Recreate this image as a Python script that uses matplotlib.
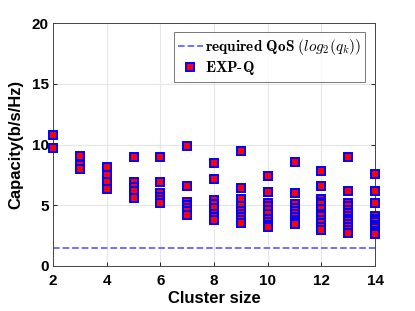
import numpy as np
import matplotlib
matplotlib.use("Agg")
import matplotlib.pyplot as plt

plt.rcParams['font.family'] = ['Liberation Sans', 'DejaVu Sans']
plt.rcParams['mathtext.fontset'] = 'cm'

# capacity of each user, grouped by cluster size
cluster_sizes = [2, 3, 4, 5, 6, 7, 8, 9, 10, 11, 12, 13, 14]
capacity = {
    2: [10.8, 9.7],
    3: [9.1, 8.3, 8.0],
    4: [8.15, 7.5, 6.9, 6.3],
    5: [9.0, 6.9, 6.5, 6.15, 5.6],
    6: [9.0, 6.9, 6.0, 5.7, 5.4, 5.2],
    7: [9.85, 6.6, 5.3, 5.0, 4.8, 4.5, 4.2],
    8: [8.5, 7.15, 5.4, 5.1, 4.75, 4.3, 4.05, 3.75],
    9: [9.5, 6.4, 5.5, 4.9, 4.55, 4.3, 4.05, 3.8, 3.5],
    10: [7.4, 6.1, 5.2, 4.9, 4.65, 4.3, 3.9, 3.6, 3.4, 3.2],
    11: [8.6, 6.05, 5.1, 4.8, 4.55, 4.3, 4.0, 3.8, 3.6, 3.5, 3.45],
    12: [7.8, 6.55, 5.55, 5.3, 5.1, 4.7, 4.3, 4.1, 3.8, 3.5, 3.2, 3.0],
    13: [8.95, 6.2, 5.2, 4.9, 4.6, 4.4, 4.1, 3.9, 3.7, 3.45, 3.2, 2.95, 2.7],
    14: [7.6, 6.2, 5.2, 4.1, 3.9, 3.7, 3.6, 3.4, 3.2, 3.1, 2.9, 2.8, 2.7, 2.6],
}
qos = 1.5

fig = plt.figure(figsize=(4.15, 3.11), dpi=100)
ax = fig.add_axes([0.128, 0.145, 0.776, 0.78])

ax.plot([2, 14], [qos, qos], '--', color=(0.4, 0.4, 1.0), lw=1.3,
        label=r'$\mathbf{required\ QoS}$ $(log_2(q_k))$')
first = True
for k in cluster_sizes:
    ys = capacity[k]
    ax.plot([k] * len(ys), ys, 's', mfc='red', mec='blue', ms=5.2, mew=1.4,
            linestyle='none', clip_on=False, zorder=3,
            label=r'$\mathbf{EXP\text{-}Q}$' if first else None)
    first = False

ax.set_xlim(2, 14)
ax.set_ylim(0, 20)
ax.set_xticks([2, 4, 6, 8, 10, 12, 14])
ax.set_yticks([0, 5, 10, 15, 20])
ax.grid(True, color='#e6e6e6', lw=0.8)
ax.set_axisbelow(True)
ax.tick_params(direction='in', length=3, labelsize=11, pad=3, width=0.6,
               top=False, right=True)
ax.tick_params(axis='x', pad=6)
for lab in ax.get_xticklabels() + ax.get_yticklabels():
    lab.set_fontweight('bold')
for s in ax.spines.values():
    s.set_linewidth(0.7)
    s.set_color('#444444')
ax.set_xlabel('Cluster size', fontsize=12, fontweight='bold', labelpad=2)
ax.set_ylabel('Capacity(b/s/Hz)', fontsize=12, fontweight='bold', labelpad=6)

leg = ax.legend(loc='upper right', bbox_to_anchor=(0.97, 0.963), fontsize=11,
                frameon=True, fancybox=False, edgecolor='#555555',
                handlelength=1.6, handletextpad=0.15, borderpad=0.3,
                labelspacing=0.15, borderaxespad=0)
leg.get_frame().set_linewidth(0.7)

fig.savefig('out.png', dpi=100)
